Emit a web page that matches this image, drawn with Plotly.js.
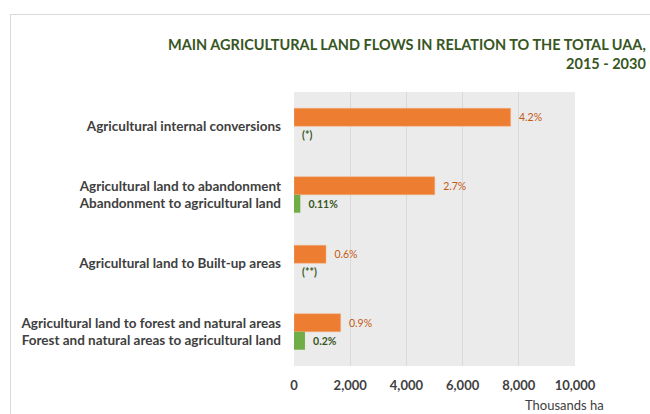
<!DOCTYPE html>
<html>
<head>
<meta charset="utf-8">
<script src="https://cdn.plot.ly/plotly-3.0.1.min.js"></script>
<style>
  html, body { margin: 0; padding: 0; background: #fff; }
  #wrap { position: relative; width: 650px; height: 414px; overflow: hidden; }
  #frame { position: absolute; left: 10px; top: 14px; width: 700px; height: 500px;
           border-left: 1px solid #d9d9d9; border-top: 1px solid #d9d9d9; }
  #chart { position: absolute; left: 0; top: 0; width: 650px; height: 414px; }
</style>
</head>
<body>
<div id="wrap">
  <div id="frame"></div>
  <div id="chart"></div>
</div>
<script>
// Categories (top to bottom)
const categories = [
  "Agricultural internal conversions",
  "Agricultural land to abandonment<br>Abandonment to agricultural land",
  "Agricultural land to Built-up areas",
  "Agricultural land to forest and natural areas<br>Forest and natural areas to agricultural land"
];
// Thousands ha
const outflowValues = [7710, 5010, 1140, 1660];
const outflowLabels = ["4.2%", "2.7%", "0.6%", "0.9%"];
const inflowValues = [0, 225, 0, 390];
const inflowLabels = ["(*)", "0.11%", "(**)", "0.2%"];
const xTicks = [0, 2000, 4000, 6000, 8000, 10000];
const xTickLabels = ["0", "2,000", "4,000", "6,000", "8,000", "10,000"];

const FONT = "Lato, 'Open Sans', sans-serif";
const pad = s => "\u00a0\u00a0" + s;

const traces = [
  {
    type: "bar", orientation: "h",
    y: categories, x: outflowValues,
    text: outflowLabels.map(pad), textposition: "outside", cliponaxis: false,
    constraintext: "none",
    textfont: { family: FONT, size: 10.5, color: "#c55a11" },
    marker: { color: "#ed7d31", line: { color: "#f4b183", width: 0.5 } },
    hoverinfo: "x+y"
  },
  {
    type: "bar", orientation: "h",
    y: categories, x: inflowValues,
    text: inflowLabels.map(pad), textposition: "outside", cliponaxis: false,
    constraintext: "none",
    textfont: { family: FONT, size: 10.5, color: "#375623", weight: "bold" },
    marker: { color: "#70ad47" },
    hoverinfo: "x+y"
  }
];

const layout = {
  width: 650, height: 414,
  margin: { l: 294, r: 74.5, t: 92, b: 48 },
  paper_bgcolor: "rgba(0,0,0,0)",
  plot_bgcolor: "#ebebeb",
  barmode: "group",
  bargap: 0.475,
  bargroupgap: 0,
  showlegend: false,
  font: { family: FONT, color: "#404040" },
  xaxis: {
    range: [0, 10000],
    tickvals: xTicks, ticktext: xTickLabels,
    showgrid: true, gridcolor: "#d9d9d9", gridwidth: 1,
    zeroline: false, showline: false,
    ticks: "", ticklabelstandoff: 10,
    tickfont: { family: FONT, size: 13, color: "#404040", weight: "bold" },
    fixedrange: true
  },
  yaxis: {
    autorange: "reversed",
    type: "category",
    showgrid: false, zeroline: false, showline: false,
    ticks: "", ticklabelstandoff: 12,
    tickfont: { family: FONT, size: 13.5, color: "#404040", weight: "bold" },
    fixedrange: true
  },
  annotations: [
    {
      xref: "paper", yref: "paper", x: 1.26, y: 1.213,
      xanchor: "right", yanchor: "top", align: "right", showarrow: false,
      text: "MAIN AGRICULTURAL LAND FLOWS IN RELATION TO THE TOTAL UAA,<br>2015 - 2030",
      font: { family: FONT, size: 14.5, color: "#375623", weight: "bold" }
    },
    {
      xref: "paper", yref: "paper", x: 1.112, y: -0.142,
      xanchor: "right", yanchor: "middle", showarrow: false,
      text: "Thousands ha",
      font: { family: FONT, size: 13, color: "#404040" }
    }
  ]
};

Plotly.newPlot("chart", traces, layout, { displayModeBar: false, staticPlot: true });
</script>
</body>
</html>
